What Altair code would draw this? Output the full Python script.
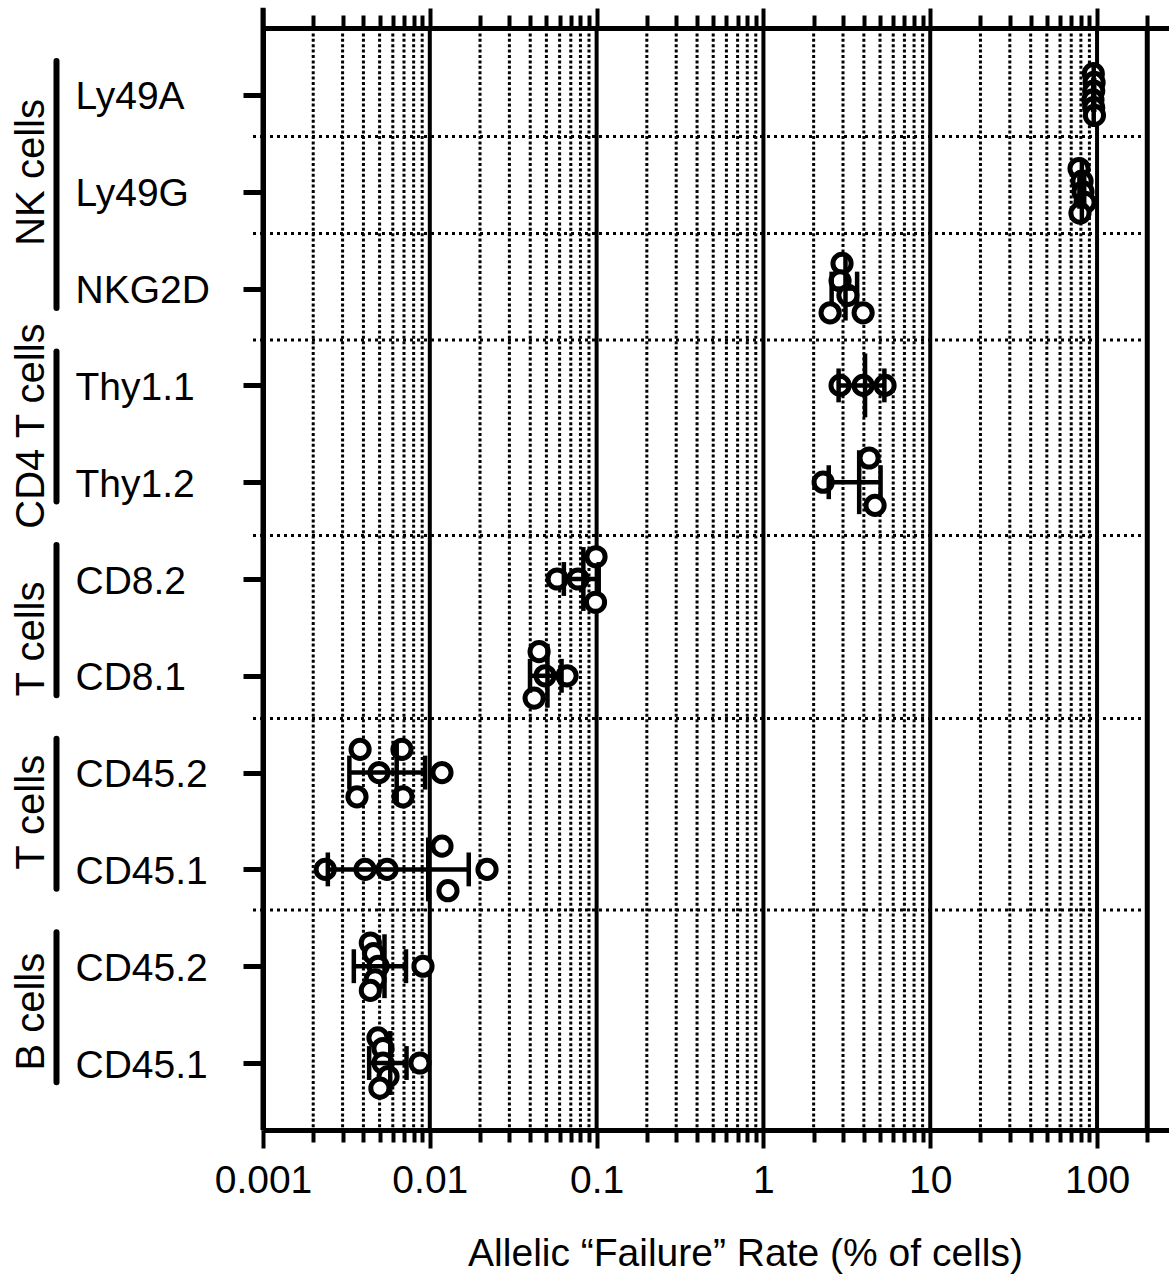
import altair as alt
import pandas as pd
import numpy as np

# ---------------- data ----------------
rows = ["Ly49A", "Ly49G", "NKG2D", "Thy1.1", "Thy1.2", "CD8.2", "CD8.1",
        "CD45.2", "CD45.1", "CD45.2", "CD45.1"]

values = [
    [95.0, 96.0, 95.5, 94.5, 95.5, 96.5],          # Ly49A
    [78.0, 81.3, 82.4, 84.7, 79.0],                # Ly49G
    [2.96, 2.88, 3.21, 2.51, 3.96],                # NKG2D
    [2.88, 3.96, 5.36],                            # Thy1.1
    [2.28, 4.30, 4.67],                            # Thy1.2
    [0.0992, 0.058, 0.0774, 0.0985],               # CD8.2
    [0.0452, 0.0491, 0.0665, 0.0422],              # CD8.1
    [0.00382, 0.00681, 0.00496, 0.01183, 0.00366, 0.00691],  # CD45.2 (T)
    [0.00236, 0.00409, 0.00554, 0.01183, 0.01285, 0.02203],  # CD45.1 (T)
    [0.0044, 0.0046, 0.0049, 0.0091, 0.0047, 0.0044],        # CD45.2 (B)
    [0.00489, 0.00524, 0.00524, 0.00873, 0.00562, 0.00502],  # CD45.1 (B)
]

# vertical scatter (stacking) of each dot within its row, in row units
jitter = [
    [-0.22, -0.13, -0.04, 0.05, 0.13, 0.21],
    [-0.24, -0.11, 0.0, 0.11, 0.22],
    [-0.26, -0.08, 0.07, 0.25, 0.25],
    [0.0, 0.0, 0.0],
    [0.0, -0.25, 0.24],
    [-0.23, 0.0, 0.0, 0.24],
    [-0.25, 0.0, 0.0, 0.23],
    [-0.24, -0.24, 0.0, 0.0, 0.25, 0.25],
    [0.0, 0.0, 0.0, -0.24, 0.22, 0.0],
    [-0.24, -0.13, 0.0, 0.0, 0.14, 0.25],
    [-0.26, -0.15, 0.0, 0.0, 0.14, 0.26],
]

groups = ["NK cells", "CD4 T cells", "T cells", "T cells", "B cells"]
group_first = [0, 3, 5, 7, 9]
group_last = [2, 4, 6, 8, 10]
group_label_pos = [0.80, 3.42, 5.62, 7.41, 9.47]

separators = [0.43, 1.43, 2.53, 4.55, 6.44, 8.42]

major_ticks = [0.001, 0.01, 0.1, 1, 10, 100]
major_labels = ["0.001", "0.01", "0.1", "1", "10", "100"]
minor_ticks = [round(m * d, 6) for d in [0.001, 0.01, 0.1, 1, 10] for m in range(2, 10)]
x_max_tick = 200
x_title = "Allelic \u201cFailure\u201d Rate (% of cells)"

# ---------------- tables ----------------
pts = pd.DataFrame([
    {"row": i, "value": v, "y": i + j}
    for i, (vs, js) in enumerate(zip(values, jitter))
    for v, j in zip(vs, js)
])
st = pd.DataFrame([
    {"row": i, "mean": float(np.mean(vs)), "sd": float(np.std(vs, ddof=1))}
    for i, vs in enumerate(values)
])
st["lo"] = st["mean"] - st["sd"]
st["hi"] = st["mean"] + st["sd"]
st["cap_a"] = st["row"] - 0.175
st["cap_b"] = st["row"] + 0.175
st["mean_a"] = st["row"] - 0.33
st["mean_b"] = st["row"] + 0.33

grp = pd.DataFrame({
    "name": groups,
    "start": [f - 0.35 for f in group_first],
    "end": [l + 0.2 for l in group_last],
    "center": group_label_pos,
})
seps = pd.DataFrame({"s": separators, "x0": major_ticks[0], "x1": x_max_tick})

FONT = "Liberation Sans"
xs = alt.Scale(type="log", domain=[0.001, 270], nice=False)
ys = alt.Scale(domain=[-0.692, 10.692], reverse=True, nice=False, zero=False)

label_expr = ("[" + ",".join(f"'{l}'" for l in major_labels) + "][indexof(["
              + ",".join(repr(v) for v in major_ticks) + "], datum.value)]")
row_expr = "[" + ",".join(f"'{r}'" for r in rows) + "][datum.value]"

common_axis = dict(tickColor="black", domainColor="black", domainWidth=5,
                   tickWidth=4, grid=False)

ax_bottom_major = alt.Axis(
    orient="bottom", values=major_ticks, tickSize=18, labelExpr=label_expr,
    labelFont=FONT, labelFontSize=39, labelColor="black", labelPadding=13,
    labelOverlap=False, labelFlush=False, labelBound=False,
    title=x_title, titleFont=FONT, titleFontSize=39, titleFontWeight="normal",
    titleColor="black", titleX=482, titleY=135, titleAlign="center",
    titleBaseline="alphabetic", **common_axis)
ax_bottom_minor = alt.Axis(orient="bottom", values=minor_ticks + [x_max_tick],
                           tickSize=12, labels=False, title=None, **common_axis)
ax_top_major = alt.Axis(orient="top", values=major_ticks, tickSize=20,
                        labels=False, title=None, **common_axis)
ax_top_minor = alt.Axis(orient="top", values=minor_ticks + [x_max_tick],
                        tickSize=13, labels=False, title=None, **common_axis)
ax_y = alt.Axis(orient="left", values=list(range(len(rows))), labelExpr=row_expr,
                tickSize=20, tickWidth=5, tickColor="black", domainColor="black",
                domainWidth=5, labelAlign="left", labelBaseline="middle",
                labelPadding=168, labelOffset=2, labelFont=FONT, labelFontSize=39,
                labelColor="black", labelOverlap=False, labelFlush=False,
                labelBound=False, grid=False, title=None)

# ---------------- layers ----------------
grid_major = alt.Chart(pd.DataFrame({"v": major_ticks[1:]})).mark_rule(
    color="black", strokeWidth=4).encode(x=alt.X("v:Q", scale=xs, axis=ax_bottom_major))

grid_minor = alt.Chart(pd.DataFrame({"v": minor_ticks})).mark_rule(
    color="black", strokeWidth=3, strokeDash=[3, 2.4]).encode(
    x=alt.X("v:Q", scale=xs, axis=ax_bottom_minor))

edge = alt.Chart(pd.DataFrame({"v": [x_max_tick]})).mark_rule(
    color="black", strokeWidth=5).encode(x=alt.X("v:Q", scale=xs, axis=ax_top_major))

sep_layer = alt.Chart(seps).mark_rule(
    color="black", strokeWidth=3, strokeDash=[3, 4]).encode(
    x=alt.X("x0:Q", scale=xs, axis=ax_top_minor), x2="x1:Q",
    y=alt.Y("s:Q", scale=ys, axis=ax_y))

sep_stub = alt.Chart(seps).mark_rule(
    color="black", strokeWidth=3, strokeDash=[3, 4]).encode(
    x=alt.value(-10), x2=alt.value(0),
    y=alt.Y("s:Q", scale=ys, axis=None))

left_ext = alt.Chart(pd.DataFrame({"x": [major_ticks[0]], "a": [-0.9], "b": [10.692]})).mark_rule(
    color="black", strokeWidth=5).encode(
    x=alt.X("x:Q", scale=xs, axis=None),
    y=alt.Y("a:Q", scale=ys, axis=None), y2="b:Q")

bars = alt.Chart(grp).mark_rule(color="black", strokeWidth=6, strokeCap="round").encode(
    x=alt.value(-206.5),
    y=alt.Y("start:Q", scale=ys, axis=None), y2="end:Q")

glabels = alt.Chart(grp).mark_text(
    angle=270, align="center", baseline="alphabetic", font=FONT, fontSize=40,
    color="black").encode(
    x=alt.value(-219), y=alt.Y("center:Q", scale=ys, axis=None), text="name:N")

dots = alt.Chart(pts).mark_point(
    shape="circle", fill="white", stroke="black", strokeWidth=5, size=330,
    opacity=1, fillOpacity=1, strokeOpacity=1).encode(
    x=alt.X("value:Q", scale=xs, axis=None),
    y=alt.Y("y:Q", scale=ys, axis=None))

EB = 4.5
hline = alt.Chart(st).mark_rule(color="black", strokeWidth=EB).encode(
    x=alt.X("lo:Q", scale=xs, axis=None), x2="hi:Q",
    y=alt.Y("row:Q", scale=ys, axis=None))
cap_lo = alt.Chart(st).mark_rule(color="black", strokeWidth=EB).encode(
    x=alt.X("lo:Q", scale=xs, axis=None),
    y=alt.Y("cap_a:Q", scale=ys, axis=None), y2="cap_b:Q")
cap_hi = alt.Chart(st).mark_rule(color="black", strokeWidth=EB).encode(
    x=alt.X("hi:Q", scale=xs, axis=None),
    y=alt.Y("cap_a:Q", scale=ys, axis=None), y2="cap_b:Q")
mean_line = alt.Chart(st).mark_rule(color="black", strokeWidth=EB).encode(
    x=alt.X("mean:Q", scale=xs, axis=None),
    y=alt.Y("mean_a:Q", scale=ys, axis=None), y2="mean_b:Q")

chart = alt.layer(
    grid_major, grid_minor, sep_layer, sep_stub, edge, left_ext, bars, glabels,
    dots, hline, cap_lo, cap_hi, mean_line
).resolve_axis(x="independent", y="independent").properties(
    width=906, height=1102,
    autosize=alt.AutoSizeParams(type="none"),
    padding={"left": 263, "top": 28, "right": 0, "bottom": 146},
).configure_view(strokeWidth=0)

chart.save("out.html", embed_options={"renderer": "svg", "actions": False})
